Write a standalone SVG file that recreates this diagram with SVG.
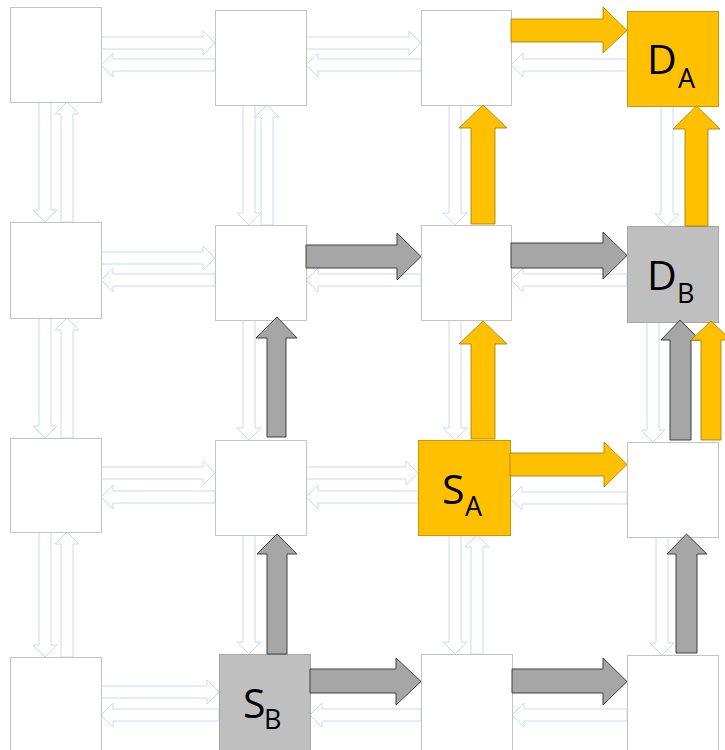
<svg xmlns="http://www.w3.org/2000/svg" width="725" height="750" viewBox="0 0 725 750">
  <style>
    .node { fill: #ffffff; stroke: #c4c4c4; stroke-width: 1; }
    .node.gold { fill: #ffc000; stroke: #c99a00; }
    .node.grey { fill: #bfbfbf; stroke: #a6a6a6; }
    .link { fill: #ffffff; stroke: #c9daf0; stroke-width: 1; }
    .flow-a { fill: #ffc000; stroke: #a07a00; stroke-width: 0.8; }
    .flow-b { fill: #a6a6a6; stroke: #404040; stroke-width: 1; }
    .lbl { font-family: "Open Sans", "Liberation Sans", sans-serif; fill: #000000; }
    .main { font-size: 41px; }
    .sub { font-size: 27px; }
  </style>

  <!-- idle mesh links (outline arrows) -->
  <g id="links">
    <!-- row 0 -->
    <polygon class="link" points="101,37 203,37 203,31 215,43 203,55 203,49 101,49"/>
    <polygon class="link" points="215,59 113,59 113,53 101,65 113,77 113,71 215,71"/>
    <polygon class="link" points="306,37 409,37 409,31 421,43 409,55 409,49 306,49"/>
    <polygon class="link" points="421,59 318,59 318,53 306,65 318,77 318,71 421,71"/>
    <polygon class="link" points="627,59 523,59 523,53 511,65 523,77 523,71 627,71"/>
    <!-- row 1 -->
    <polygon class="link" points="101,252 203,252 203,246 215,258 203,270 203,264 101,264"/>
    <polygon class="link" points="215,274 113,274 113,268 101,280 113,292 113,286 215,286"/>
    <polygon class="link" points="421,274 318,274 318,268 306,280 318,292 318,286 421,286"/>
    <polygon class="link" points="627,274 523,274 523,268 511,280 523,292 523,286 627,286"/>
    <!-- row 2 -->
    <polygon class="link" points="101,467 203,467 203,461 215,473 203,485 203,479 101,479"/>
    <polygon class="link" points="215,491 113,491 113,485 101,497 113,509 113,503 215,503"/>
    <polygon class="link" points="306,467 406,467 406,461 418,473 406,485 406,479 306,479"/>
    <polygon class="link" points="418,491 318,491 318,485 306,497 318,509 318,503 418,503"/>
    <polygon class="link" points="627,492 522,492 522,486 510,498 522,510 522,504 627,504"/>
    <!-- row 3 -->
    <polygon class="link" points="101,686 207,686 207,680 219,692 207,704 207,698 101,698"/>
    <polygon class="link" points="219,709 113,709 113,703 101,715 113,727 113,721 219,721"/>
    <polygon class="link" points="421,709 322,709 322,703 310,715 322,727 322,721 421,721"/>
    <polygon class="link" points="627,709 524,709 524,703 512,715 524,727 524,721 627,721"/>
    <!-- column 0 -->
    <polygon class="link" points="39,102 51,102 51,210 57,210 45,222 33,210 39,210"/>
    <polygon class="link" points="61,222 73,222 73,114 79,114 67,102 55,114 61,114"/>
    <polygon class="link" points="39,318 51,318 51,426 57,426 45,438 33,426 39,426"/>
    <polygon class="link" points="61,438 73,438 73,330 79,330 67,318 55,330 61,330"/>
    <polygon class="link" points="39,532 51,532 51,645 57,645 45,657 33,645 39,645"/>
    <polygon class="link" points="61,657 73,657 73,544 79,544 67,532 55,544 61,544"/>
    <!-- column 1 -->
    <polygon class="link" points="243,105 255,105 255,213 261,213 249,225 237,213 243,213"/>
    <polygon class="link" points="261,225 273,225 273,117 279,117 267,105 255,117 261,117"/>
    <polygon class="link" points="243,320 255,320 255,428 261,428 249,440 237,428 243,428"/>
    <polygon class="link" points="243,535 255,535 255,642 261,642 249,654 237,642 243,642"/>
    <!-- column 2 -->
    <polygon class="link" points="449,105 461,105 461,213 467,213 455,225 443,213 449,213"/>
    <polygon class="link" points="449,320 461,320 461,428 467,428 455,440 443,428 449,428"/>
    <polygon class="link" points="449,535 461,535 461,642 467,642 455,654 443,642 449,642"/>
    <polygon class="link" points="471,654 483,654 483,547 489,547 477,535 465,547 471,547"/>
    <!-- column 3 -->
    <polygon class="link" points="661,106 673,106 673,214 679,214 667,226 655,214 661,214"/>
    <polygon class="link" points="647,322 659,322 659,430 665,430 653,442 641,430 647,430"/>
    <polygon class="link" points="656,537 668,537 668,643 674,643 662,655 650,643 656,643"/>
  </g>

  <!-- routers -->
  <g id="n00"><rect class="node" x="10.5" y="7.5" width="91" height="95"/></g>
  <g id="n01"><rect class="node" x="215.5" y="10.5" width="91" height="95"/></g>
  <g id="n02"><rect class="node" x="421.5" y="10.5" width="90" height="95"/></g>
  <g id="n03-DA">
    <rect class="node gold" x="627.5" y="11.5" width="91" height="95"/>
    <text class="lbl main" x="647" y="74">D<tspan class="sub" x="678" y="88">A</tspan></text>
  </g>

  <g id="n10"><rect class="node" x="10.5" y="222.5" width="91" height="96"/></g>
  <g id="n11"><rect class="node" x="215.5" y="225.5" width="91" height="95"/></g>
  <g id="n12"><rect class="node" x="421.5" y="225.5" width="90" height="95"/></g>
  <g id="n13-DB">
    <rect class="node grey" x="627.5" y="226.5" width="91" height="96"/>
    <text class="lbl main" x="647" y="290">D<tspan class="sub" x="677" y="303">B</tspan></text>
  </g>

  <g id="n20"><rect class="node" x="10.5" y="438.5" width="91" height="94"/></g>
  <g id="n21"><rect class="node" x="215.5" y="440.5" width="91" height="95"/></g>
  <g id="n22-SA">
    <rect class="node gold" x="418.5" y="440.5" width="92" height="95"/>
    <text class="lbl main" x="442" y="504">S<tspan class="sub" x="465" y="516">A</tspan></text>
  </g>
  <g id="n23"><rect class="node" x="627.5" y="442.5" width="91" height="95"/></g>

  <g id="n30"><rect class="node" x="10.5" y="657.5" width="91" height="95"/></g>
  <g id="n31-SB">
    <rect class="node grey" x="219.5" y="654.5" width="91" height="98"/>
    <text class="lbl main" x="243" y="718">S<tspan class="sub" x="264" y="729">B</tspan></text>
  </g>
  <g id="n32"><rect class="node" x="421.5" y="654.5" width="91" height="98"/></g>
  <g id="n33"><rect class="node" x="627.5" y="655.5" width="91" height="97"/></g>

  <!-- active routes: flow A (gold) and flow B (grey) -->
  <g id="routes">
    <polygon class="flow-a" points="511,19 603,19 603,7 627,30.5 603,53 603,42 511,42"/>
    <polygon class="flow-a" points="471,224 495,224 495,128 507,128 483,105 459,128 471,128"/>
    <polygon class="flow-a" points="685,226 708,226 708,129 720,129 696.5,106 673,129 685,129"/>
    <polygon class="flow-a" points="471,439 495,439 495,344 507,344 483,321 459,344 471,344"/>
    <polygon class="flow-a" points="510,453 604,453 604,442 627,464.5 604,487 604,476 510,476"/>

    <polygon class="flow-b" points="306,245 397,245 397,233 421,256.5 397,280 397,268 306,268"/>
    <polygon class="flow-b" points="511,243 603,243 603,232 627,255.5 603,279 603,268 511,268"/>
    <polygon class="flow-b" points="267,437 286,437 286,338 297,338 277,317 256,338 267,338"/>
    <polygon class="flow-b" points="267,654 287,654 287,554 297,554 277,534 257,554 267,554"/>
    <polygon class="flow-b" points="310,669 396,669 396,658 421,681.5 396,705 396,693 310,693"/>
    <polygon class="flow-b" points="512,669 603,669 603,658 627,681.5 603,705 603,693 512,693"/>
    <polygon class="flow-b" points="676,653 697,653 697,554 707,554 686.5,534 667,554 676,554"/>
    <polygon class="flow-b" points="670,440 691,440 691,340 700,340 680,320 661,340 670,340"/>
    <polygon class="flow-a" points="701,440 721,440 721,340 731,340 711,321 691,340 701,340"/>
  </g>
</svg>
